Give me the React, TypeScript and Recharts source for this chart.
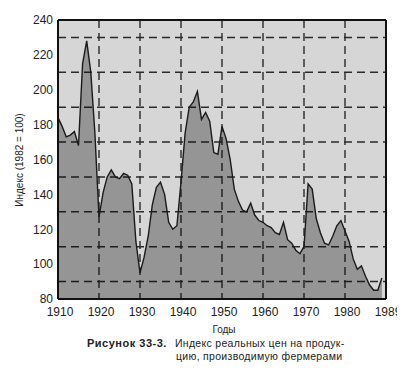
import { Area, AreaChart, CartesianGrid, ReferenceLine, XAxis, YAxis } from 'recharts'

const years = [
  1910, 1911, 1912, 1913, 1914, 1915, 1916, 1917, 1918, 1919,
  1920, 1921, 1922, 1923, 1924, 1925, 1926, 1927, 1928, 1929,
  1930, 1931, 1932, 1933, 1934, 1935, 1936, 1937, 1938, 1939,
  1940, 1941, 1942, 1943, 1944, 1945, 1946, 1947, 1948, 1949,
  1950, 1951, 1952, 1953, 1954, 1955, 1956, 1957, 1958, 1959,
  1960, 1961, 1962, 1963, 1964, 1965, 1966, 1967, 1968, 1969,
  1970, 1971, 1972, 1973, 1974, 1975, 1976, 1977, 1978, 1979,
  1980, 1981, 1982, 1983, 1984, 1985, 1986, 1987, 1988, 1989,
]

// real price index, 1982 = 100
const priceIndex = [
  184, 179, 173, 174, 176, 168, 215, 228, 210, 175,
  127, 141, 150, 154, 150, 149, 152, 151, 146, 113,
  95, 104, 116, 134, 144, 147, 140, 124, 120, 122,
  147, 175, 190, 193, 199, 183, 187, 182, 164, 163,
  179, 172, 160, 143, 136, 131, 130, 135, 128, 125,
  124, 122, 121, 118, 117, 124, 114, 112, 108, 106,
  110, 146, 143, 126, 118, 112, 111, 116, 122, 125,
  119, 113, 103, 97, 99, 93, 88, 85, 85, 92,
]

const xTicks = [1910, 1920, 1930, 1940, 1950, 1960, 1970, 1980, 1990]
const xTickLabels = ['1910', '1920', '1930', '1940', '1950', '1960', '1970', '1980', '1989']
const yTicks = [80, 100, 120, 140, 160, 180, 200, 220, 240]
const gridRows = [90, 100, 110, 120, 130, 140, 150, 160, 170, 180, 190, 200, 210, 220, 230]
const gridCols = [1920, 1930, 1940, 1950, 1960, 1970, 1980]

const data = years.map((year, i) => ({ year, value: priceIndex[i] }))

const font = '"Liberation Sans", Arial, sans-serif'
const tickStyle = { fontSize: 12, fill: '#222', fontFamily: font }
const frame = { stroke: '#111', strokeWidth: 2 }

export default function App() {
  return (
    <div
      style={{
        position: 'relative',
        width: 405,
        height: 372,
        margin: -8,
        background: '#fff',
        fontFamily: font,
        color: '#222',
      }}
    >
      <AreaChart
        width={405}
        height={372}
        data={data}
        margin={{ top: 20, right: 19, bottom: 53, left: 0 }}
        style={{ overflow: 'visible' }}
      >
        <CartesianGrid
          fill="#d6d6d6"
          stroke="#2a2a2a"
          strokeWidth={1.4}
          strokeDasharray="8 5"
          horizontalValues={gridRows}
          verticalValues={gridCols}
        />
        <XAxis
          dataKey="year"
          type="number"
          domain={[1910, 1990]}
          ticks={xTicks}
          tickFormatter={(v: number) => xTickLabels[xTicks.indexOf(v)]}
          tickLine={false}
          tickSize={0}
          tickMargin={8}
          axisLine={frame}
          tick={{ ...tickStyle, dx: 2 }}
          interval={0}
          height={20}
        />
        <YAxis
          type="number"
          domain={[80, 240]}
          ticks={yTicks}
          width={58}
          tickLine={false}
          tickSize={0}
          tickMargin={5}
          axisLine={frame}
          tick={tickStyle}
        />
        <Area
          type="linear"
          dataKey="value"
          stroke="#1a1a1a"
          strokeWidth={1.4}
          fill="#000"
          fillOpacity={0.3}
          isAnimationActive={false}
        />
        <ReferenceLine y={240} stroke="#111" strokeWidth={2} />
        <ReferenceLine x={1990} stroke="#111" strokeWidth={2} />
      </AreaChart>

      <div
        style={{
          position: 'absolute',
          left: -40,
          top: 154,
          width: 120,
          lineHeight: '12px',
          fontSize: 10,
          textAlign: 'center',
          transform: 'rotate(-90deg)',
          whiteSpace: 'nowrap',
        }}
      >
        Индекс (1982 = 100)
      </div>
      <div style={{ position: 'absolute', left: 184, top: 324, width: 80, textAlign: 'center', fontSize: 10, lineHeight: '12px' }}>
        Годы
      </div>
      <div
        style={{
          position: 'absolute',
          left: 87,
          top: 337,
          fontSize: 11,
          letterSpacing: 0.5,
          fontWeight: 'bold',
          lineHeight: '12px',
          whiteSpace: 'nowrap',
        }}
      >
        Рисунок 33-3.
      </div>
      <div style={{ position: 'absolute', left: 175, top: 337, fontSize: 10.5, letterSpacing: 0.3, lineHeight: '12px', whiteSpace: 'nowrap' }}>
        Индекс реальных цен на продук-
      </div>
      <div style={{ position: 'absolute', left: 176, top: 350, fontSize: 10.5, letterSpacing: 0.3, lineHeight: '12px', whiteSpace: 'nowrap' }}>
        цию, производимую фермерами
      </div>
    </div>
  )
}
